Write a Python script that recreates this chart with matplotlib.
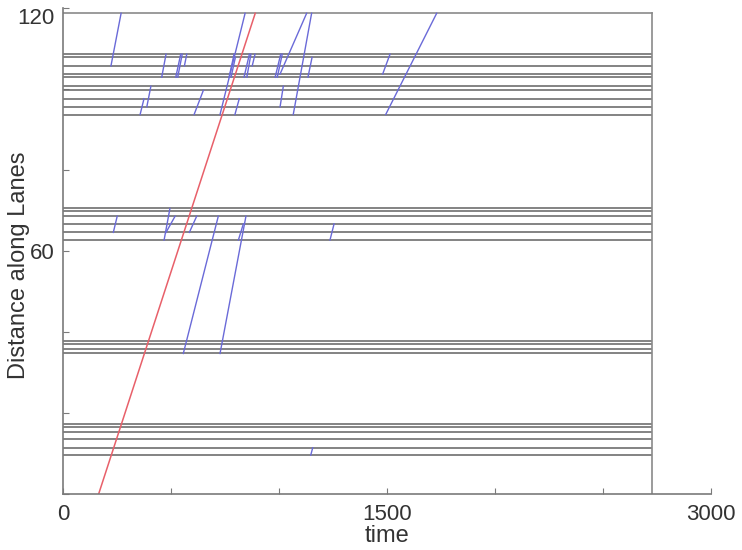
import matplotlib
matplotlib.use("Agg")
import matplotlib.pyplot as plt

plt.rcParams['font.family'] = ['Liberation Sans', 'DejaVu Sans']

# lane positions (distance)
lanes_top = [108.6, 107.8, 105.7, 103.7, 102.9, 100.7, 99.7, 97.6, 95.6, 93.7]
lanes_mid = [70.5, 69.9, 68.6, 66.7, 64.6, 62.7]
lanes_low = [37.9, 37.0, 35.9, 34.7]
lanes_bot = [17.3, 16.5, 15.3, 13.5, 11.4, 9.6]

t_end = 2725
d_end = 118.7

# blue vehicle trajectories: start time, start distance, end time, end distance
blue_t0 = [222, 457, 522, 531, 562, 357, 388, 607, 727, 769, 778, 796, 838, 851, 876,
           982, 992, 1005, 1066, 1005, 1134, 1480, 1494,
           233, 468, 477, 585, 557, 727, 812, 1236,
           1147]
blue_d0 = [105.7, 102.9, 102.9, 102.9, 105.7, 93.7, 95.6, 93.7, 93.7, 102.9, 102.9, 93.7, 102.9, 102.9, 105.7,
           102.9, 102.9, 103.7, 93.7, 95.6, 102.9, 103.7, 93.7,
           64.6, 62.7, 64.6, 64.6, 34.7, 34.7, 62.7, 62.7,
           9.6]
blue_t1 = [269, 477, 545, 552, 573, 375, 407, 650, 843, 792, 798, 816, 863, 870, 889,
           1008, 1015, 1128, 1151, 1020, 1153, 1514, 1730,
           251, 495, 519, 619, 719, 847, 835, 1255,
           1156]
blue_d1 = [118.7, 108.6, 108.6, 108.6, 108.6, 97.6, 100.7, 99.7, 118.7, 108.6, 107.8, 97.6, 108.6, 108.6, 108.6,
           108.6, 108.6, 118.7, 118.7, 100.7, 107.8, 108.6, 118.7,
           68.6, 70.5, 68.6, 68.6, 68.6, 68.6, 66.7, 66.7,
           11.4]

# red trajectory
red_t = [165, 890]
red_d = [0, 118.7]

x_ticks = [0, 500, 1000, 1500, 2000, 2500, 3000]
x_labels = ['0', '', '', '1500', '', '', '3000']
y_ticks = [0, 20, 40, 60, 80, 100, 120]
y_labels = ['', '', '', '60', '', '', '120']

fig = plt.figure(figsize=(7.42, 5.5), dpi=100)
ax = fig.add_axes([63/742, 56/550, 648/742, 486/550])

lane_color = '#6e6e6e'
for group in (lanes_top, lanes_mid, lanes_low, lanes_bot):
    for d in group:
        ax.plot([0, t_end], [d, d], color=lane_color, lw=1.2, solid_capstyle='butt')

# frame (top and right)
ax.plot([0, t_end], [d_end, d_end], color='#8a8a8a', lw=1.2)
ax.plot([t_end, t_end], [0, d_end], color='#8a8a8a', lw=1.2)

for a, b, c, d in zip(blue_t0, blue_d0, blue_t1, blue_d1):
    ax.plot([a, c], [b, d], color='#6a6ad8', lw=1.0)

ax.plot(red_t, red_d, color='#e8606a', lw=1.1)

ax.set_xlim(0, 3000)
ax.set_ylim(0, 120)
ax.spines['top'].set_visible(False)
ax.spines['right'].set_visible(False)
for s in ('left', 'bottom'):
    ax.spines[s].set_color('#7a7a7a')
    ax.spines[s].set_linewidth(1.2)

ax.set_xticks(x_ticks)
ax.set_xticklabels(x_labels)
ax.set_yticks(y_ticks)
ax.set_yticklabels(y_labels)
ax.tick_params(direction='in', length=4, color='#7a7a7a', labelsize=16, labelcolor='#333333', pad=6)
ax.tick_params(axis='x', pad=7)
ax.get_yticklabels()[-1].set_va('top')

ax.set_xlabel('time', fontsize=17, color='#333333', labelpad=0)
ax.set_ylabel('Distance along Lanes', fontsize=17, color='#333333')
ax.yaxis.set_label_coords(-0.051, 0.47)

fig.savefig('out.png', dpi=100)
